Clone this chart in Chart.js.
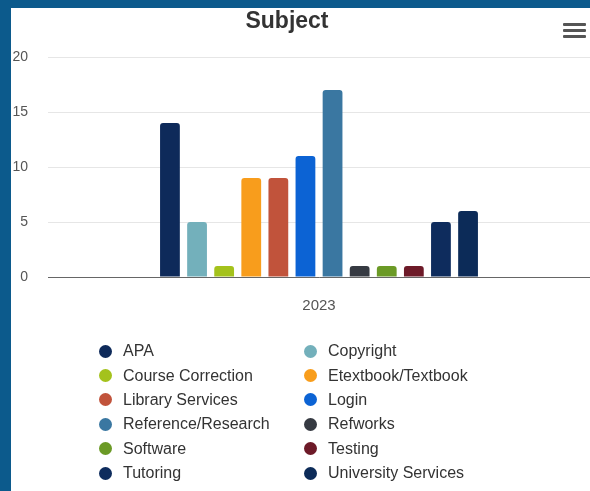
<!DOCTYPE html>
<html>
<head>
<meta charset="utf-8">
<script src="https://cdn.jsdelivr.net/npm/chart.js@4.4.0/dist/chart.umd.min.js"></script>
<style>
  body { margin: 0; background: #0c5a8c; width: 590px; height: 491px; overflow: hidden; font-family: "Liberation Sans", Arial, sans-serif; }
  #card { position: absolute; left: 11px; top: 8px; width: 579px; height: 483px; background: #fff; overflow: hidden; }
  #title { position: absolute; left: 0; top: -1px; width: 552px; text-align: center; font-size: 23px; font-weight: bold; color: #333; }
  #menu { position: absolute; left: 552px; top: 15px; width: 23px; }
  #menu div { height: 3px; background: #555; margin-bottom: 3px; border-radius: 1px; }
  #chart-wrap { position: absolute; left: 0; top: 0; width: 579px; height: 333px; }
  #legend { position: absolute; left: 88px; top: 331px; display: grid; grid-template-columns: 205px 200px; row-gap: 0; }
  .item { height: 24.4px; display: flex; align-items: center; font-size: 16px; color: #333; }
  .dot { width: 13px; height: 13px; border-radius: 50%; margin-right: 11px; flex: none; }
</style>
</head>
<body>
<div id="card">
  <div id="chart-wrap"><canvas id="chart"></canvas></div>
  <div id="title">Subject</div>
  <div id="menu"><div></div><div></div><div></div></div>
  <div id="legend"></div>
</div>
<script>
// dados do grafico
const categories = ['2023'];
const subjects = ['APA', 'Copyright', 'Course Correction', 'Etextbook/Textbook', 'Library Services', 'Login',
  'Reference/Research', 'Refworks', 'Software', 'Testing', 'Tutoring', 'University Services'];
const counts = [14, 5, 1, 9, 9, 11, 17, 1, 1, 1, 5, 6];
const yTicks = [0, 5, 10, 15, 20];

const colors = ['#0e2a5a', '#73b0bb', '#a4c21c', '#f89d1c', '#c1533b', '#0c63d4',
  '#3a77a1', '#363a42', '#6b9a26', '#6d1a28', '#0e2c5d', '#0c2b58'];

const datasets = subjects.map((name, i) => ({
  label: name,
  data: [counts[i]],
  backgroundColor: colors[i],
  borderRadius: 3,
  borderSkipped: 'bottom',
  categoryPercentage: 0.6,
  barPercentage: 0.73
}));

const ctx = document.getElementById('chart');
new Chart(ctx, {
  type: 'bar',
  data: { labels: categories, datasets: datasets },
  options: {
    responsive: true,
    maintainAspectRatio: false,
    animation: false,
    layout: { padding: { top: 49, left: 0, right: 0, bottom: 6 } },
    plugins: {
      legend: { display: false },
      title: { display: false },
      tooltip: { enabled: false }
    },
    scales: {
      x: {
        grid: { display: false, drawTicks: false },
        border: { color: '#666', width: 1 },
        ticks: { color: '#555', font: { size: 15, family: 'Liberation Sans' }, padding: 20 }
      },
      y: {
        min: 0,
        max: 20,
        afterBuildTicks: (scale) => { scale.ticks = yTicks.map(v => ({ value: v })); },
        afterFit: (scale) => { scale.width = 37; },
        grid: { color: '#e6e6e6', drawTicks: false },
        border: { display: false },
        ticks: { color: '#555', font: { size: 14, family: 'Liberation Sans' }, padding: 20 }
      }
    }
  }
});

// legenda em duas colunas
const legend = document.getElementById('legend');
for (let i = 0; i < subjects.length; i++) {
  const item = document.createElement('div');
  item.className = 'item';
  const dot = document.createElement('span');
  dot.className = 'dot';
  dot.style.background = colors[i];
  item.appendChild(dot);
  item.appendChild(document.createTextNode(subjects[i]));
  legend.appendChild(item);
}
</script>
</body>
</html>
